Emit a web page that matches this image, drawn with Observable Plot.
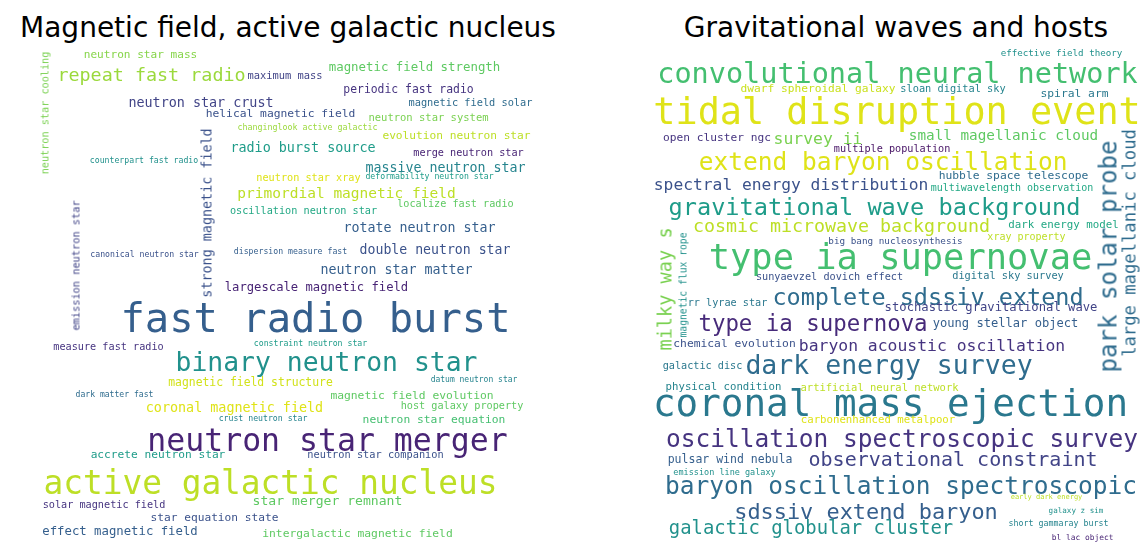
<!DOCTYPE html>
<html>
<head>
<meta charset="utf-8">
<script src="https://cdn.jsdelivr.net/npm/d3@7"></script>
<script src="https://cdn.jsdelivr.net/npm/@observablehq/plot@0.6"></script>
<style>
  html, body { margin: 0; padding: 0; background: #ffffff; }
  g[aria-label="text"] text { filter: blur(0.4px); }
</style>
</head>
<body>
<div id="chart"></div>
<script>
// Panel titles
const panelTitles = ["Magnetic field, active galactic nucleus", "Gravitational waves and hosts"];

// Each row: [word, weight, x, y, tone (0-1 viridis), vertical]
const magneticWords = [
  ["neutron star mass", 11.1, 100, 9, 0.82, 0],
  ["repeat fast radio", 18.4, 111, 30, 0.85, 0],
  ["maximum mass", 10.4, 244.5, 30, 0.2, 0],
  ["magnetic field strength", 12.4, 374, 22, 0.75, 0],
  ["periodic fast radio", 11.4, 368, 44, 0.15, 0],
  ["magnetic field solar", 10.3, 430, 57, 0.35, 0],
  ["neutron star crust", 13.4, 160.5, 57, 0.2, 0],
  ["helical magnetic field", 11.3, 240, 68, 0.25, 0],
  ["neutron star system", 10.5, 388, 72, 0.8, 0],
  ["changinglook active galactic", 8.3, 267, 82, 0.85, 0],
  ["evolution neutron star", 11.2, 416, 90, 0.9, 0],
  ["radio burst source", 13.4, 262.5, 102, 0.55, 0],
  ["merge neutron star", 10.2, 428, 107, 0.1, 0],
  ["massive neutron star", 13.3, 405, 122, 0.45, 0],
  ["neutron star cooling", 10.2, 5, 67.5, 0.8, 1],
  ["counterpart fast radio", 8.2, 103.5, 115, 0.5, 0],
  ["strong magnetic field", 13.4, 167, 167.5, 0.25, 1],
  ["primordial magnetic field", 14.5, 306, 148, 0.9, 0],
  ["neutron star xray", 10.2, 268, 132, 0.95, 0],
  ["deformability neutron star", 8.2, 389, 131, 0.55, 0],
  ["localize fast radio", 10.2, 415, 158, 0.75, 0],
  ["oscillation neutron star", 10.2, 263, 165, 0.6, 0],
  ["rotate neutron star", 13.3, 379, 182, 0.3, 0],
  ["emission neutron star", 10.3, 36, 220, 0.2, 1],
  ["canonical neutron star", 8.2, 104, 209, 0.25, 0],
  ["dispersion measure fast", 8.2, 250, 206, 0.3, 0],
  ["double neutron star", 13.2, 394.5, 204, 0.25, 0],
  ["neutron star matter", 13.3, 356, 224, 0.3, 0],
  ["largescale magnetic field", 12.2, 276, 242, 0.1, 0],
  ["fast radio burst", 40.5, 275, 274, 0.3, 0],
  ["measure fast radio", 10.2, 68, 301, 0.15, 0],
  ["constraint neutron star", 8.2, 270, 298, 0.55, 0],
  ["binary neutron star", 26.4, 286, 317, 0.5, 0],
  ["magnetic field structure", 11.4, 210, 337, 0.93, 0],
  ["datum neutron star", 8.0, 433.5, 334, 0.45, 0],
  ["dark matter fast", 8.1, 74, 349, 0.35, 0],
  ["magnetic field evolution", 11.3, 371.5, 350, 0.75, 0],
  ["host galaxy property", 10.2, 421.5, 360, 0.75, 0],
  ["coronal magnetic field", 13.4, 194, 362, 0.95, 0],
  ["crust neutron star", 8.2, 222.5, 373, 0.45, 0],
  ["neutron star equation", 11.3, 393.5, 374, 0.7, 0],
  ["neutron star merger", 31.5, 287, 395, 0.1, 0],
  ["accrete neutron star", 11.2, 117.5, 409, 0.55, 0],
  ["neutron star companion", 10.3, 335, 409, 0.25, 0],
  ["active galactic nucleus", 32.8, 230, 438, 0.9, 0],
  ["solar magnetic field", 10.2, 63.5, 459, 0.15, 0],
  ["star merger remnant", 13.1, 287, 455, 0.75, 0],
  ["star equation state", 11.2, 174, 472, 0.25, 0],
  ["effect magnetic field", 12.3, 79.5, 486, 0.3, 0],
  ["intergalactic magnetic field", 11.3, 317, 488, 0.75, 0]
];

const gravitationalWords = [
  ["effective field theory", 9.2, 413, 8, 0.5, 0],
  ["convolutional neural network", 28.5, 249, 28, 0.7, 0],
  ["dwarf spheroidal galaxy", 11.2, 169.5, 43, 0.92, 0],
  ["sloan digital sky", 10.3, 304.5, 43, 0.45, 0],
  ["spiral arm", 11.3, 426, 48, 0.4, 0],
  ["tidal disruption event", 36.8, 248.5, 67, 0.95, 0],
  ["open cluster ngc", 11.2, 68.5, 92, 0.15, 0],
  ["survey ii", 16.4, 169.5, 93, 0.8, 0],
  ["small magellanic cloud", 14.3, 355, 90, 0.75, 0],
  ["multiple population", 10.2, 243.5, 103, 0.05, 0],
  ["extend baryon oscillation", 24.5, 234.5, 117, 0.95, 0],
  ["spectral energy distribution", 16.3, 142.5, 139, 0.25, 0],
  ["hubble space telescope", 11.3, 365, 130, 0.35, 0],
  ["multiwavelength observation", 10.0, 363.5, 142, 0.6, 0],
  ["gravitational wave background", 23.6, 226, 162, 0.55, 0],
  ["park solar probe", 24.1, 460, 211, 0.35, 1],
  ["large magellanic cloud", 17.2, 481, 197.5, 0.35, 1],
  ["cosmic microwave background", 18.3, 193, 181, 0.9, 0],
  ["dark energy model", 10.8, 415, 179, 0.6, 0],
  ["big bang nucleosynthesis", 9.3, 247, 196, 0.25, 0],
  ["xray property", 10.0, 378, 191, 0.9, 0],
  ["milky way s", 18.6, 17, 243.5, 0.8, 1],
  ["magnetic flux rope", 9.7, 35, 239.5, 0.5, 1],
  ["type ia supernovae", 35.4, 252, 212, 0.7, 0],
  ["sunyaevzel dovich effect", 10.2, 181, 231, 0.25, 0],
  ["digital sky survey", 10.3, 359.5, 230, 0.4, 0],
  ["complete sdssiv extend", 23.5, 279.5, 252, 0.35, 0],
  ["rr lyrae star", 10.2, 79, 257, 0.4, 0],
  ["stochastic gravitational wave", 12.2, 342.5, 262, 0.2, 0],
  ["type ia supernova", 22.4, 164.5, 278, 0.12, 0],
  ["young stellar object", 12.1, 357, 278, 0.3, 0],
  ["chemical evolution", 11.3, 86, 298, 0.25, 0],
  ["baryon acoustic oscillation", 16.4, 283.5, 300, 0.15, 0],
  ["galactic disc", 10.2, 54, 320, 0.4, 0],
  ["dark energy survey", 26.5, 240.5, 320, 0.35, 0],
  ["physical condition", 10.7, 75, 341, 0.45, 0],
  ["artificial neural network", 10.5, 231, 342, 0.9, 0],
  ["coronal mass ejection", 37.6, 242, 358, 0.4, 0],
  ["carbonenhanced metalpoor", 10.7, 229.5, 374, 0.95, 0],
  ["oscillation spectroscopic survey", 24.5, 253.5, 394, 0.15, 0],
  ["pulsar wind nebula", 11.5, 81.5, 414, 0.3, 0],
  ["observational constraint", 20.0, 304.5, 414, 0.2, 0],
  ["emission line galaxy", 8.5, 76, 427, 0.5, 0],
  ["baryon oscillation spectroscopic", 24.5, 252.5, 441, 0.35, 0],
  ["early dark energy", 7.0, 398, 451, 0.9, 0],
  ["sdssiv extend baryon", 21.9, 217.5, 466, 0.3, 0],
  ["galaxy z sim", 7.6, 427.5, 465, 0.5, 0],
  ["short gammaray burst", 8.3, 410, 478, 0.45, 0],
  ["galactic globular cluster", 18.9, 162.5, 482, 0.5, 0],
  ["bl lac object", 7.9, 434, 492, 0.1, 0]
];

const toRows = (rows, panel) => rows.map(([word, weight, x, y, tone, vertical]) => ({panel, word, weight, x, y, tone, vertical}));
const words = [...toRows(magneticWords, panelTitles[0]), ...toRows(gravitationalWords, panelTitles[1])];

const chart = Plot.plot({
  width: 1148,
  height: 557,
  marginTop: 45,
  marginBottom: 17,
  marginLeft: 40,
  marginRight: 5,
  style: {background: "#ffffff", fontFamily: "DejaVu Sans, sans-serif"},
  x: {domain: [0, 495], axis: null},
  y: {domain: [0, 495], reverse: true, axis: null},
  fx: {domain: panelTitles, paddingInner: 0.1859, paddingOuter: 0, round: false, axis: null, label: null},
  color: {type: "linear", scheme: "viridis", domain: [0, 1]},
  marks: [
    Plot.axisFx({anchor: "top", tickSize: 0, tickPadding: 8.5, fontSize: 28, label: null, fill: "#000000"}),
    Plot.text(words, {
      fx: "panel",
      x: "x",
      y: "y",
      text: "word",
      fontSize: "weight",
      rotate: d => d.vertical ? -90 : 0,
      fill: "tone",
      fontFamily: "DejaVu Sans Mono",
      textAnchor: "middle",
      lineAnchor: "middle"
    })
  ]
});
document.getElementById("chart").appendChild(chart);
</script>
</body>
</html>
